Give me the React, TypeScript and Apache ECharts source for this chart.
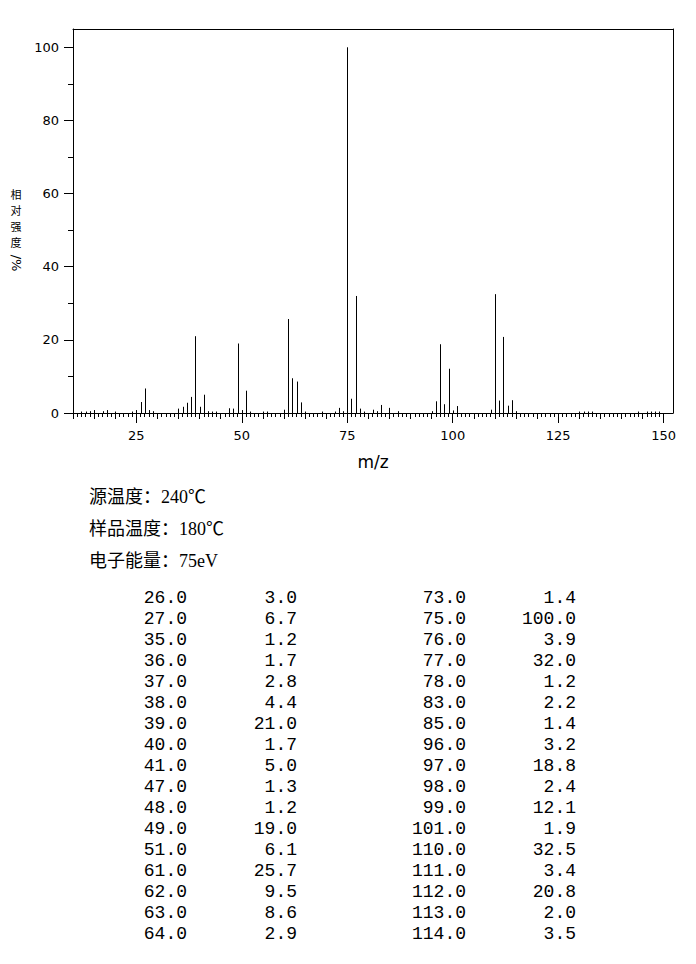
import React, { useEffect, useRef } from "react";
import * as echarts from "echarts";

// Listed peaks (m/z, relative intensity %)
const peakMz = [26, 27, 35, 36, 37, 38, 39, 40, 41, 47, 48, 49, 51, 61, 62, 63, 64, 73, 75, 76, 77, 78, 83, 85, 96, 97, 98, 99, 101, 110, 111, 112, 113, 114];
const peakIntensity = [3.0, 6.7, 1.2, 1.7, 2.8, 4.4, 21.0, 1.7, 5.0, 1.3, 1.2, 19.0, 6.1, 25.7, 9.5, 8.6, 2.9, 1.4, 100.0, 3.9, 32.0, 1.2, 2.2, 1.4, 3.2, 18.8, 2.4, 12.1, 1.9, 32.5, 3.4, 20.8, 2.0, 3.5];

// Small unlisted peaks
const minorMz = [12, 13, 14, 15, 17, 18, 20, 24, 25, 28, 29, 42, 43, 44, 50, 52, 55, 56, 60, 65, 69, 72, 74, 79, 81, 82, 87, 95, 100, 109, 115, 130, 131, 132, 133, 144, 146, 147, 148, 149];
const minorIntensity = [0.4, 0.4, 0.5, 0.8, 0.5, 0.8, 0.4, 0.4, 0.8, 0.8, 0.5, 0.5, 0.4, 0.4, 0.8, 0.4, 0.4, 0.4, 0.9, 0.4, 0.4, 0.4, 0.5, 0.4, 0.9, 0.5, 0.5, 0.5, 0.7, 0.9, 0.5, 0.4, 0.4, 0.4, 0.4, 0.4, 0.4, 0.4, 0.4, 0.4];

const xLabelValues = [25, 50, 75, 100, 125, 150];
const xMidTicks = [10, 15, 20, 30, 35, 40, 45, 55, 60, 65, 70, 80, 85, 90, 95, 105, 110, 115, 120, 130, 135, 140, 145];
const yLabelValues = [0, 20, 40, 60, 80, 100];
const yMinorTicks = [10, 30, 50, 70, 90];

const infoLines = ["源温度：240℃", "样品温度：180℃", "电子能量：75eV"];
const xAxisTitle = "m/z";
const yTitleCjk = ["相", "对", "强", "度"];
const yTitleLatin = "/%";

const X_MIN = 10;
const X_MAX = 152.2;
const Y_MAX = 105;

const xMinorTicks: number[] = [];
for (let v = 10; v <= 150; v++) xMinorTicks.push(v);

const AXIS_FONT = "'DejaVu Sans', sans-serif";
const MONO = "'Liberation Mono', 'DejaVu Sans Mono', monospace";
const CJK = "'Liberation Serif', 'Noto Sans CJK SC', serif";

export default function App() {
  const ref = useRef<HTMLDivElement>(null);

  useEffect(() => {
    if (!ref.current) return;
    const chart = echarts.init(ref.current, undefined, { renderer: "svg" });

    const lineStyle = { color: "#000", width: 1 };
    const baseX = {
      type: "value" as const,
      min: X_MIN,
      max: X_MAX,
      gridIndex: 0,
      splitLine: { show: false },
    };
    const baseY = {
      type: "value" as const,
      min: 0,
      max: Y_MAX,
      gridIndex: 0,
      splitLine: { show: false },
    };

    const peaks = peakMz.map((m, i) => [m, peakIntensity[i]]);
    const minors = minorMz.map((m, i) => [m, minorIntensity[i]]);

    const renderStick = (params: any, api: any) => {
      const x = api.value(0);
      const y = api.value(1);
      const p0 = api.coord([x, 0]);
      const p1 = api.coord([x, y]);
      const px = Math.round(p0[0]) + 0.5;
      return {
        type: "line",
        shape: { x1: px, y1: p0[1], x2: px, y2: p1[1] },
        style: { stroke: "#000", lineWidth: 1 },
      };
    };

    const leftCount = 17;
    const tableTexts: any[] = [];
    for (let i = 0; i < peakMz.length; i++) {
      const col = i < leftCount ? 0 : 1;
      const row = col === 0 ? i : i - leftCount;
      const y = 598 + 21 * row;
      const xm = col === 0 ? 187 : 466;
      const xi = col === 0 ? 297 : 576;
      tableTexts.push({
        type: "text",
        x: xm,
        y,
        style: { text: peakMz[i].toFixed(1), font: `18px ${MONO}`, fill: "#000", align: "right", verticalAlign: "middle" },
      });
      tableTexts.push({
        type: "text",
        x: xi,
        y,
        style: { text: peakIntensity[i].toFixed(1), font: `18px ${MONO}`, fill: "#000", align: "right", verticalAlign: "middle" },
      });
    }

    const infoTexts = infoLines.map((t, i) => ({
      type: "text",
      x: 89,
      y: 497 + 32 * i,
      style: { text: t, font: `18px ${CJK}`, fill: "#000", align: "left", verticalAlign: "middle" },
    }));

    const yTitle: any[] = yTitleCjk.map((ch, i) => ({
      type: "text",
      x: 16,
      y: 194 + 16 * i,
      style: {
        text: ch,
        font: `11px 'Noto Sans CJK SC', sans-serif`,
        fill: "#000",
        align: "center",
        verticalAlign: "middle",
      },
    }));
    yTitle.push({
      type: "text",
      x: 16,
      y: 263,
      rotation: -Math.PI / 2,
      style: { text: yTitleLatin, font: `13px ${AXIS_FONT}`, fill: "#000", align: "center", verticalAlign: "middle" },
    });

    chart.setOption({
      animation: false,
      backgroundColor: "#fff",
      grid: [{ left: 73, top: 29, width: 600, height: 384, show: false, outerBoundsMode: "none", containLabel: false }],
      xAxis: [
        {
          ...baseX,
          position: "bottom",
          axisLine: { show: true, onZero: false, lineStyle },
          axisTick: { show: true, inside: false, length: 4, customValues: xMinorTicks, lineStyle },
          axisLabel: {
            show: true,
            customValues: xLabelValues,
            margin: 16,
            color: "#000",
            fontSize: 13,
            fontFamily: AXIS_FONT,
          },
          name: xAxisTitle,
          nameLocation: "middle",
          nameGap: 40,
          nameTextStyle: { color: "#000", fontSize: 17, fontFamily: AXIS_FONT },
        },
        {
          ...baseX,
          position: "bottom",
          axisLine: { show: false },
          axisTick: { show: true, inside: false, length: 6, customValues: xMidTicks, lineStyle },
          axisLabel: { show: false },
        },
        {
          ...baseX,
          position: "bottom",
          axisLine: { show: false },
          axisTick: { show: true, inside: false, length: 10, customValues: xLabelValues, lineStyle },
          axisLabel: { show: false },
        },
        {
          ...baseX,
          position: "top",
          axisLine: { show: true, onZero: false, lineStyle },
          axisTick: { show: false },
          axisLabel: { show: false },
        },
      ],
      yAxis: [
        {
          ...baseY,
          position: "left",
          axisLine: { show: true, onZero: false, lineStyle },
          axisTick: { show: true, inside: false, length: 9, customValues: yLabelValues, lineStyle },
          axisLabel: {
            show: true,
            customValues: yLabelValues,
            margin: 14,
            color: "#000",
            fontSize: 13,
            fontFamily: AXIS_FONT,
          },
        },
        {
          ...baseY,
          position: "left",
          axisLine: { show: false },
          axisTick: { show: true, inside: false, length: 5, customValues: yMinorTicks, lineStyle },
          axisLabel: { show: false },
        },
        {
          ...baseY,
          position: "right",
          axisLine: { show: true, onZero: false, lineStyle },
          axisTick: { show: false },
          axisLabel: { show: false },
        },
      ],
      series: [
        {
          type: "custom",
          name: "peaks",
          xAxisIndex: 0,
          yAxisIndex: 0,
          data: peaks,
          renderItem: renderStick,
          silent: true,
          clip: false,
        },
        {
          type: "custom",
          name: "minor",
          xAxisIndex: 0,
          yAxisIndex: 0,
          data: minors,
          renderItem: renderStick,
          silent: true,
          clip: false,
        },
      ],
      graphic: [...yTitle, ...infoTexts, ...tableTexts],
    });

    return () => chart.dispose();
  }, []);

  return (
    <div
      ref={ref}
      style={{ position: "absolute", left: 0, top: 0, width: 696, height: 964, background: "#fff" }}
    />
  );
}
